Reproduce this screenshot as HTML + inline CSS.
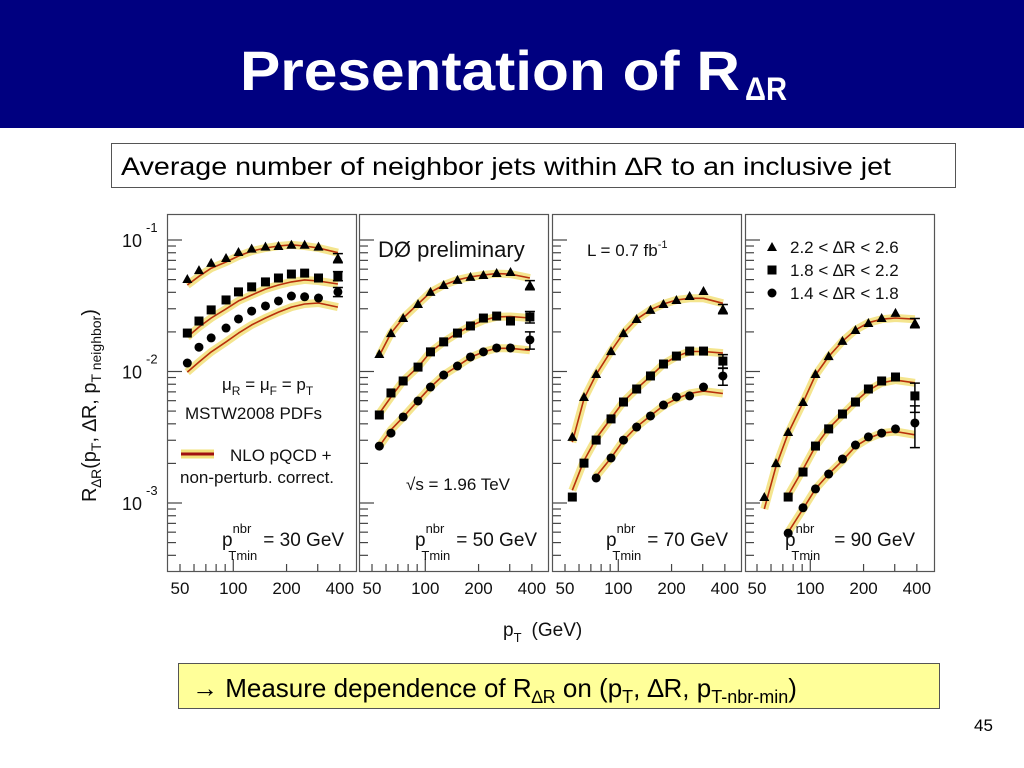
<!DOCTYPE html>
<html><head><meta charset="utf-8">
<style>
html,body{margin:0;padding:0;background:#fff;}
svg{display:block;}
text{font-family:"Liberation Sans",Arial,sans-serif;}
.nar{font-family:"Liberation Sans Narrow","Liberation Sans",Arial,sans-serif;}
</style></head>
<body>
<svg id="slide" width="1024" height="768" viewBox="0 0 1024 768" xmlns="http://www.w3.org/2000/svg">
  <rect x="0" y="0" width="1024" height="128" fill="#000080"/>
  <text class="nar" x="240" y="90" font-size="56" font-weight="bold" fill="#fff" textLength="500" lengthAdjust="spacingAndGlyphs">Presentation of R</text>
  <text class="nar" x="745" y="100" font-size="32" font-weight="bold" fill="#fff" textLength="42" lengthAdjust="spacingAndGlyphs">ΔR</text>

  <rect x="111.5" y="143.5" width="844" height="44" fill="#fff" stroke="#555"/>
  <text class="nar" x="121" y="175" font-size="25" fill="#000" textLength="770" lengthAdjust="spacingAndGlyphs">Average number of neighbor jets within ∆R to an inclusive jet</text>

  <g id="chart"></g>

  <rect x="178.5" y="663.5" width="761" height="45" fill="#ffff99" stroke="#555"/>
  <text class="nar" x="192" y="697" font-size="26" fill="#000"><tspan font-weight="bold">→</tspan> Measure dependence of R<tspan font-size="18" dy="6">∆R</tspan><tspan dy="-6"> on (p</tspan><tspan font-size="18" dy="6">T</tspan><tspan dy="-6">, ∆R, p</tspan><tspan font-size="18" dy="6">T-nbr-min</tspan><tspan dy="-6">)</tspan></text>
  <text x="974" y="731" font-size="17" fill="#000">45</text>
</svg>
<script>
// ---- data ----
const ptBins = [55, 64, 75, 91, 107, 127, 152, 180, 213, 253, 303, 390];
const xTickLabels = ["50", "100", "200", "400"];
const xTickValues = [50, 100, 200, 400];
const yDecades = [-1, -2, -3];
const thresholds = ["30", "50", "70", "90"];
const seriesNames = ["2.2 < ∆R < 2.6", "1.8 < ∆R < 2.2", "1.4 < ∆R < 1.8"];
// start index into ptBins per panel per series
const startIdx = [[0,0,0],[0,0,0],[0,0,2],[0,2,2]];
const triData = [
  [0.0505,0.059,0.067,0.073,0.081,0.086,0.089,0.090,0.092,0.092,0.089,0.073],
  [0.0136,0.0196,0.0255,0.0326,0.0403,0.0455,0.0497,0.0524,0.0542,0.0561,0.0571,0.0455],
  [0.00318,0.0064,0.00957,0.0143,0.0196,0.0251,0.0294,0.0326,0.035,0.0375,0.0409,0.0299],
  [0.00111,0.00201,0.00347,0.00586,0.00957,0.0131,0.0171,0.0207,0.0234,0.0255,0.0279,0.0234]
];
const sqData = [
  [0.0196,0.0242,0.0294,0.035,0.0403,0.044,0.048,0.0514,0.0551,0.056,0.0514,0.0532],
  [0.00467,0.00687,0.00847,0.0108,0.0141,0.0168,0.0196,0.0222,0.0255,0.0264,0.0242,0.026],
  [0.00111,0.00201,0.00301,0.00436,0.00586,0.00736,0.00925,0.0114,0.0131,0.0143,0.0143,0.012],
  [0.00111,0.00172,0.00271,0.00366,0.00475,0.00586,0.00736,0.00847,0.00908,0.00652]
];
const circData = [
  [0.0116,0.0153,0.018,0.0214,0.0251,0.0288,0.0315,0.0344,0.0375,0.037,0.0362,0.0403],
  [0.00271,0.0034,0.00451,0.00597,0.00762,0.0094,0.011,0.0129,0.0141,0.0151,0.0151,0.0174],
  [0.00155,0.0022,0.00301,0.00378,0.00459,0.00556,0.0064,0.00652,0.00762,0.00925],
  [0.00059,0.00092,0.00128,0.00166,0.00216,0.00276,0.00318,0.0034,0.00366,0.00406]
];
const triTheory = [
  [0.0455,0.053,0.061,0.068,0.0755,0.0824,0.087,0.090,0.092,0.090,0.087,0.080],
  [0.0132,0.0196,0.0255,0.0326,0.040,0.0455,0.0497,0.0524,0.0542,0.0555,0.055,0.0514],
  [0.0029,0.0062,0.0095,0.0143,0.0196,0.025,0.0294,0.0326,0.035,0.036,0.036,0.033],
  [0.0009,0.0019,0.0034,0.0058,0.0094,0.013,0.017,0.0207,0.0235,0.025,0.0255,0.025]
];
const sqTheory = [
  [0.0183,0.0218,0.0255,0.0299,0.0344,0.0382,0.0424,0.0455,0.048,0.0497,0.0488,0.0463],
  [0.0048,0.0064,0.0085,0.0108,0.0141,0.0168,0.0196,0.0222,0.0245,0.026,0.0262,0.0255],
  [0.00125,0.0021,0.0031,0.0044,0.0059,0.0074,0.0092,0.0114,0.013,0.0142,0.0142,0.0138],
  [0.00115,0.0018,0.0027,0.0037,0.0047,0.0059,0.0072,0.0082,0.0086,0.0082]
];
const circTheory = [
  [0.0099,0.0118,0.0141,0.0168,0.0196,0.0226,0.0255,0.0283,0.0309,0.0326,0.0332,0.0309],
  [0.0027,0.0036,0.0045,0.006,0.0076,0.0094,0.011,0.0128,0.0141,0.015,0.015,0.0145],
  [0.0016,0.0022,0.003,0.0038,0.0046,0.0055,0.0062,0.0068,0.0071,0.0068],
  [0.0006,0.0009,0.00128,0.00166,0.0021,0.0027,0.0031,0.0034,0.0035,0.0033]
];
// relative error of last data point per panel/series
const lastErr = [[0.08,0.08,0.08],[0.08,0.1,0.15],[0.08,0.12,0.15],[0.08,0.25,0.35]];

// ---- layout ----
const NS = "http://www.w3.org/2000/svg";
const chart = document.getElementById('chart');
const panelLeft = [167, 359, 552, 745];
const panelW = 189, panelTop = 214, panelBot = 571;
const x50 = [180, 372, 565, 757];
const pxPerDecX = 177;
const yRef = 240, pxPerDecY = 131.5;
function xScale(p, k){ return x50[k] + pxPerDecX*Math.log10(p/50); }
function yScale(v){ return yRef - pxPerDecY*(Math.log10(v)+1); }
function mk(tag, attrs, parent){
  const e = document.createElementNS(NS, tag);
  for (const a in attrs) e.setAttribute(a, attrs[a]);
  (parent||chart).appendChild(e); return e;
}
function txt(x,y,s,size,parent){ const t=mk('text',{x:x,y:y,'font-size':size,fill:'#111'},parent); t.textContent=s; return t; }

function marker(kind, x, y, g){
  let m;
  if (kind===0) m = mk('polygon',{points:`${x},${y-5} ${x-5},${y+4} ${x+5},${y+4}`,fill:'#000'},g);
  else if (kind===1) m = mk('rect',{x:x-4.5,y:y-4.5,width:9,height:9,fill:'#000'},g);
  else m = mk('circle',{cx:x,cy:y,r:4.5,fill:'#000'},g);
  return m;
}

const dataSets = [triData, sqData, circData];
const theorySets = [triTheory, sqTheory, circTheory];
const sNames = ['triangle','square','circle'];

for (let k=0;k<4;k++){
  const g = mk('g',{});
  
  
  const fr = mk('rect',{x:panelLeft[k]+0.5,y:panelTop+0.5,width:panelW,height:panelBot-panelTop,fill:'#fff',stroke:'#555','stroke-width':1.2},g);
  
  
  const yMax = Math.pow(10, -1 + (yRef-panelTop)/pxPerDecY);
  for (let d=-4; d<=-1; d++){
    for (let m=1; m<=9; m++){
      const v = m*Math.pow(10,d);
      if (v>yMax) continue;
      const y = yScale(v);
      if (y>panelBot) continue;
      const t = mk('line',{x1:panelLeft[k]+1,x2:panelLeft[k]+1+(m===1?14:8),y1:y,y2:y,stroke:'#444','stroke-width':1.2},g);
      
      
    }
  }
  for (let p=50;p<=400;p+= (p<100?10:100)){
    const x = xScale(p,k);
    const t = mk('line',{x1:x,x2:x,y1:panelBot,y2:panelBot-(p===100?12:7),stroke:'#444','stroke-width':1.2},g);
    
    
  }
  xTickValues.forEach((p,i)=>{
    const t = txt(xScale(p,k),594,xTickLabels[i],17);
    t.setAttribute('text-anchor','middle');
    
    
  });
  for (let s=0;s<3;s++){
    const st = startIdx[k][s];
    const th = theorySets[s][k];
    let d='';
    th.forEach((v,i)=>{ d += (i?'L':'M') + xScale(ptBins[st+i],k).toFixed(1)+','+yScale(v).toFixed(1)+' '; });
    const band = mk('path',{d:d,fill:'none',stroke:'#f2e07a','stroke-width':8,'stroke-linejoin':'round','stroke-linecap':'butt',opacity:0.85},g);
    
    
    const ln = mk('path',{d:d,fill:'none',stroke:'#b8300c','stroke-width':1.6,'stroke-linejoin':'round'},g);
    
    
    const dat = dataSets[s][k];
    dat.forEach((v,i)=>{
      const x = xScale(ptBins[st+i],k), y = yScale(v);
      if (i===dat.length-1){
        const e = lastErr[k][s];
        const y1 = yScale(v*(1+e)), y2 = yScale(v*(1-e));
        const eb = mk('path',{d:`M${x},${y1}L${x},${y2}M${x-5},${y1}L${x+5},${y1}M${x-5},${y2}L${x+5},${y2}`,stroke:'#000','stroke-width':1.5,fill:'none'},g);
        
        
      }
      const m = marker(s,x,y,g);
      
      
    });
  }
  const lx = [222, 415, 606, 785][k];
  const pl = mk('text',{x:lx,y:546,'font-size':19,fill:'#111'},g);
  
  
  pl.innerHTML = 'p<tspan font-size="13" dy="-13">nbr</tspan><tspan font-size="13" dx="-23" dy="27">Tmin</tspan><tspan dx="' + (k===3?14:6) + '" dy="-14">= ' + (k===3?' ':'') + thresholds[k] + ' GeV</tspan>';
}

yDecades.forEach(d=>{
  const y = yScale(Math.pow(10,d));
  const t = mk('text',{x:122,y:y+7,'font-size':18,fill:'#111'});
  t.innerHTML = '10<tspan font-size="13" dy="-15" dx="4">' + d + '</tspan>';
  
  
});
const yt = mk('text',{x:0,y:0,'font-size':20,fill:'#111',transform:'translate(96,502) rotate(-90)'});
yt.innerHTML = 'R<tspan font-size="14" dy="5">∆R</tspan><tspan dy="-5">(p</tspan><tspan font-size="14" dy="5">T</tspan><tspan dy="-5">, ∆R, p</tspan><tspan font-size="14" dy="5">T neighbor</tspan><tspan dy="-5">)</tspan>';


const xt = mk('text',{x:503,y:636,'font-size':19,fill:'#111'});
xt.innerHTML = 'p<tspan font-size="13" dy="6">T</tspan><tspan dy="-6" dx="10">(GeV)</tspan>';



const a1 = mk('text',{x:222,y:390,'font-size':17,fill:'#111'});
a1.innerHTML = 'μ<tspan font-size="12" dy="5">R</tspan><tspan dy="-5"> = μ</tspan><tspan font-size="12" dy="5">F</tspan><tspan dy="-5"> = p</tspan><tspan font-size="12" dy="5">T</tspan>';


const a2 = txt(185,419,'MSTW2008 PDFs',17);


const lb = mk('line',{x1:181,x2:214,y1:454,y2:454,stroke:'#f2e07a','stroke-width':9});


const ll = mk('line',{x1:181,x2:214,y1:454,y2:454,stroke:'#a01010','stroke-width':3});


const a3 = txt(230,461,'NLO pQCD +',17);


const a4 = txt(180,483,'non-perturb. correct.',17);


const a5 = txt(378,257,'DØ preliminary',22);


const a6 = txt(406,490,'√s = 1.96 TeV',17);


const a7 = mk('text',{x:587,y:256,'font-size':17,fill:'#111'});
a7.innerHTML = 'L = 0.7 fb<tspan font-size="11" dy="-8">-1</tspan>';


seriesNames.forEach((n,i)=>{
  const y = 247 + i*23;
  const g = mk('g',{});
  
  
  marker(i,772,y,g);
  txt(790,y+6,n,17,g);
});
</script>
</body></html>
